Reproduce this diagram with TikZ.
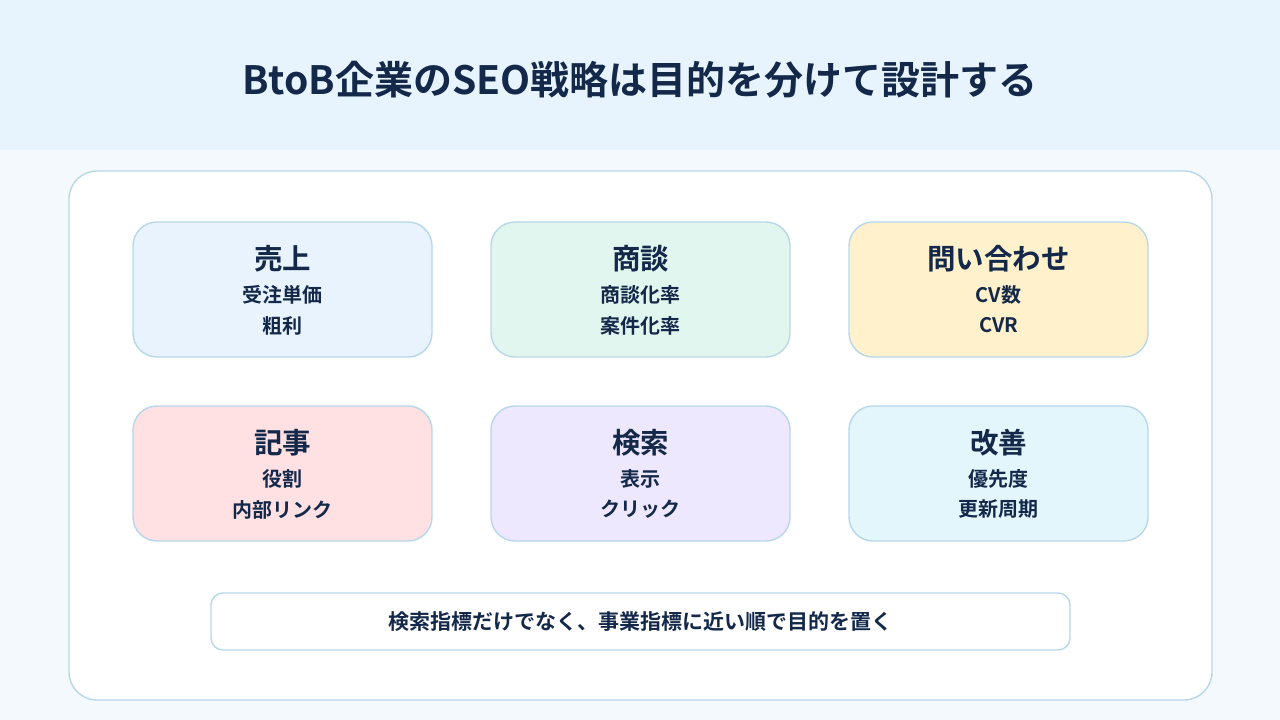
\documentclass[tikz,border=0pt]{standalone}
\usepackage{fontspec}
\setmainfont{Noto Sans CJK JP}[BoldFont={Noto Sans CJK JP Bold}]
\newfontfamily\jpb{Noto Sans CJK JP Bold}
\definecolor{ink}{HTML}{14294A}
\definecolor{hdr}{HTML}{E7F4FD}
\definecolor{pagebg}{HTML}{F4F9FE}
\definecolor{edge}{HTML}{B7D7EA}
\definecolor{cA}{HTML}{E8F3FD}
\definecolor{cB}{HTML}{E0F6EE}
\definecolor{cC}{HTML}{FFF1CC}
\definecolor{cD}{HTML}{FFE1E4}
\definecolor{cE}{HTML}{EDE8FD}
\definecolor{cF}{HTML}{E3F6FC}
\tikzset{
  card/.style={draw=edge, line width=1.4pt, rounded corners=24pt, minimum width=299pt, minimum height=135pt, inner sep=0pt},
  ctitle/.style={text=ink, font=\jpb\fontsize{28.5}{32}\selectfont, inner sep=0pt, anchor=center},
  csub/.style={text=ink, font=\jpb\fontsize{20}{23}\selectfont, inner sep=0pt, anchor=center},
}
\begin{document}
\begin{tikzpicture}[x=1pt,y=-1pt]
\useasboundingbox (0,0) rectangle (1280,720);
\fill[pagebg] (0,0) rectangle (1280,720);
\fill[hdr] (0,0) rectangle (1280,150);
\node[text=ink, font=\jpb\fontsize{39}{44}\selectfont, inner sep=0pt] (title) at (640,80) {BtoB企業のSEO戦略は目的を分けて設計する};
\node[draw=edge, fill=white, line width=1.4pt, rounded corners=28pt, minimum width=1143pt, minimum height=529pt, inner sep=0pt] (panel) at (640.5,435.5) {};
% row 1
\node[card, fill=cA] (c1) at (282.5,289.5) {};
\node[card, fill=cB] (c2) at (640.5,289.5) {};
\node[card, fill=cC] (c3) at (998.5,289.5) {};
\node[card, fill=cD] (c4) at (282.5,473.5) {};
\node[card, fill=cE] (c5) at (640.5,473.5) {};
\node[card, fill=cF] (c6) at (998.5,473.5) {};
\foreach \c/\t/\a/\b in {c1/売上/受注単価/粗利, c2/商談/商談化率/案件化率, c3/問い合わせ/CV数/CVR, c4/記事/役割/内部リンク, c5/検索/表示/クリック, c6/改善/優先度/更新周期}{
  \node[ctitle] (\c t) at ([yshift=31pt]\c.center) {\t};
  \node[csub] (\c a) at ([yshift=-5pt]\c.center) {\a};
  \node[csub] (\c b) at ([yshift=-36pt]\c.center) {\b};
}
\node[draw=edge, fill=white, line width=1.4pt, rounded corners=12pt, minimum width=859pt, minimum height=57pt, inner sep=0pt, text=ink, font=\jpb\fontsize{21}{25}\selectfont] (foot) at (640.5,621.5) {検索指標だけでなく、事業指標に近い順で目的を置く};
\end{tikzpicture}
\end{document}
